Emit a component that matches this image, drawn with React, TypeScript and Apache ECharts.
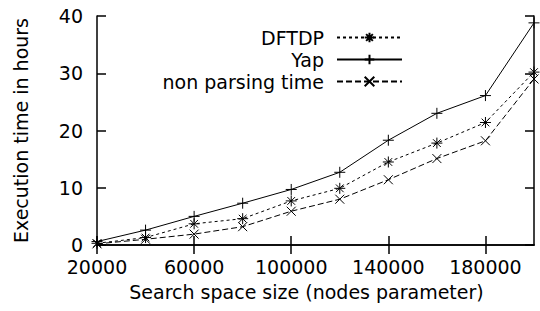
import React, { useEffect, useRef } from "react";
import * as echarts from "echarts";

const nodes = ["20000", "40000", "60000", "80000", "100000", "120000", "140000", "160000", "180000", "200000"];
const dftdp = [0.3, 1.3, 3.7, 4.6, 7.7, 9.9, 14.5, 17.8, 21.4, 30.2];
const yap = [0.6, 2.6, 5.0, 7.3, 9.7, 12.7, 18.3, 23.0, 26.1, 38.8];
const nonParsing = [0.2, 1.0, 1.9, 3.2, 5.9, 8.0, 11.4, 15.1, 18.2, 29.0];

const FONT = "DejaVu Sans";
const STAR = "path://M5,0L5,10M0,5L10,5M1.5,1.5L8.5,8.5M1.5,8.5L8.5,1.5";
const PLUS = "path://M5,0L5,10M0,5L10,5";
const CROSS = "path://M0,0L10,10M0,10L10,0";

export default function App() {
  const ref = useRef<HTMLDivElement>(null);
  useEffect(() => {
    const chart = echarts.init(ref.current!, null, { renderer: "svg" });
    const markerStyle = { color: "none", borderColor: "#000", borderWidth: 1 };
    const axisLine = { show: true, lineStyle: { color: "#000", width: 1.5 } };
    const tick = { show: true, inside: true, length: 9, lineStyle: { color: "#000", width: 1.5 } };
    chart.setOption({
      animation: false,
      backgroundColor: "#fff",
      grid: { left: 97, right: 6, top: 16, bottom: 66 },
      legend: {
        orient: "vertical",
        right: 137,
        top: 28,
        padding: 0,
        align: "right",
        itemWidth: 65,
        itemHeight: 12,
        itemGap: 3,
        textStyle: { fontFamily: FONT, fontSize: 19, color: "#000", padding: [0, 8, 0, 0] },
        data: ["DFTDP", "Yap", "non parsing time"],
      },
      xAxis: [
        {
          type: "category",
          data: nodes,
          boundaryGap: false,
          axisLine,
          axisTick: { ...tick, interval: 1 },
          axisLabel: { interval: 1, fontFamily: FONT, fontSize: 19, color: "#000", margin: 12 },
          splitLine: { show: false },
          name: "Search space size (nodes parameter)",
          nameLocation: "middle",
          nameGap: 37,
          nameTextStyle: { fontFamily: FONT, fontSize: 19, color: "#000", padding: [0, 18, 0, 0] },
        },
        {
          type: "category",
          data: nodes,
          boundaryGap: false,
          position: "top",
          axisLine,
          axisTick: { ...tick, interval: 1 },
          axisLabel: { show: false },
          splitLine: { show: false },
        },
      ],
      yAxis: [
        {
          type: "value",
          min: 0,
          max: 40,
          interval: 10,
          axisLine,
          axisTick: tick,
          axisLabel: { fontFamily: FONT, fontSize: 19, color: "#000", margin: 14 },
          splitLine: { show: false },
          name: "Execution time in hours",
          nameLocation: "middle",
          nameRotate: 90,
          nameGap: 67,
          nameTextStyle: { fontFamily: FONT, fontSize: 19, color: "#000" },
        },
        {
          type: "value",
          min: 0,
          max: 40,
          interval: 10,
          position: "right",
          axisLine,
          axisTick: tick,
          axisLabel: { show: false },
          splitLine: { show: false },
        },
      ],
      series: [
        {
          name: "DFTDP",
          type: "line",
          data: dftdp,
          symbol: STAR,
          symbolSize: 11,
          showAllSymbol: true,
          lineStyle: { color: "#000", width: 1, type: [3, 3] },
          itemStyle: markerStyle,
        },
        {
          name: "Yap",
          type: "line",
          data: yap,
          symbol: PLUS,
          symbolSize: 11,
          showAllSymbol: true,
          lineStyle: { color: "#000", width: 1, type: "solid" },
          itemStyle: markerStyle,
        },
        {
          name: "non parsing time",
          type: "line",
          data: nonParsing,
          symbol: CROSS,
          symbolSize: 9,
          showAllSymbol: true,
          lineStyle: { color: "#000", width: 1, type: [6, 3] },
          itemStyle: markerStyle,
        },
      ],
    });
    return () => chart.dispose();
  }, []);
  return <div ref={ref} style={{ width: 540, height: 311, position: "absolute", left: 0, top: 0 }} />;
}
